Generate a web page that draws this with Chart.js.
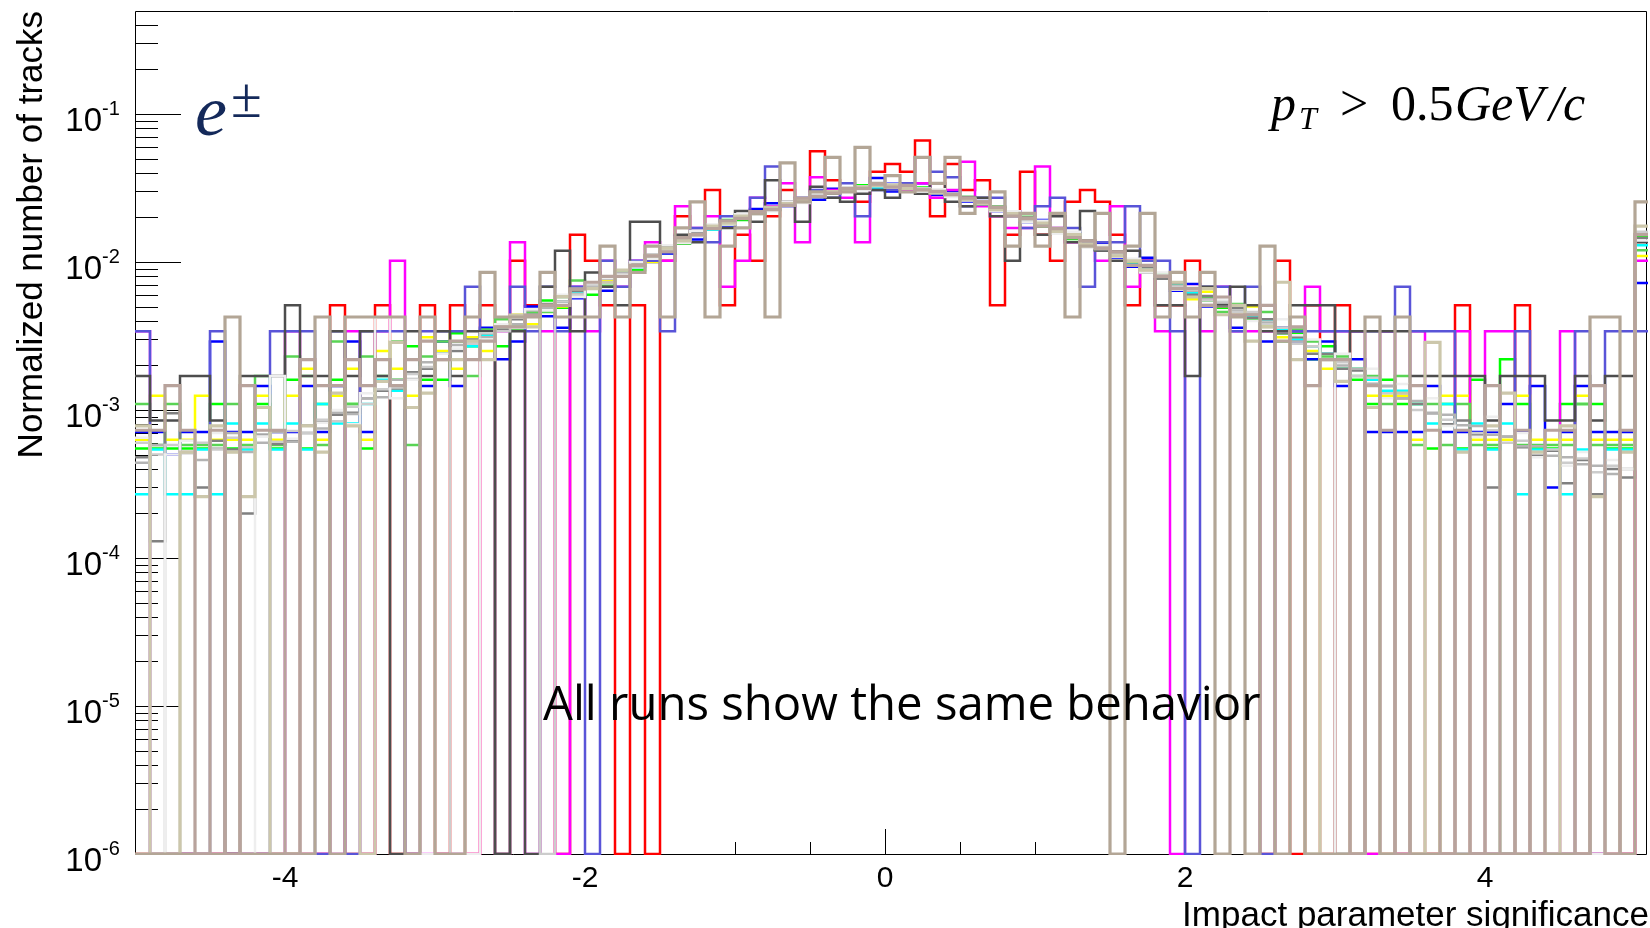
<!DOCTYPE html>
<html>
<head>
<meta charset="utf-8">
<script src="https://cdn.jsdelivr.net/npm/chart.js@4.4.1/dist/chart.umd.min.js"></script>
<style>
  html, body { margin: 0; padding: 0; background: #fff; }
  canvas { display: block; }
</style>
</head>
<body>
<canvas id="ipChart" width="1650" height="928"></canvas>
<script>
// histogram binning: 101 bins of 0.1 starting at -5 (last one is past +5)
const binStart = -5;
const binWidth = 0.1;

const yTickExponents = [-6, -5, -4, -3, -2, -1];
const xTickLabels = [-4, -2, 0, 2, 4];

// normalized counts per run, one value per bin
const run02 = [
  0,0,0,0,0,0,0,0,0,0,
  0,0,0,5.1e-3,0,0,5.1e-3,0,0,5.1e-3,
  0,5.1e-3,0,5.1e-3,0,1.02e-2,5.1e-3,5.1e-3,0,1.53e-2,
  1.02e-2,5.1e-3,0,5.1e-3,0,1.02e-2,2.04e-2,1.53e-2,3.06e-2,5.1e-3,
  1.53e-2,1.02e-2,2.04e-2,3.06e-2,2.55e-2,5.61e-2,3.57e-2,3.06e-2,2.55e-2,4.08e-2,
  4.59e-2,4.08e-2,6.63e-2,2.04e-2,4.59e-2,3.06e-2,3.57e-2,5.1e-3,1.53e-2,4.08e-2,
  1.53e-2,1.02e-2,2.55e-2,3.06e-2,2.55e-2,1.53e-2,5.1e-3,1.02e-2,5.1e-3,5.1e-3,
  1.02e-2,5.1e-3,5.1e-3,5.1e-3,5.1e-3,0,1.02e-2,0,5.1e-3,0,
  5.1e-3,0,0,0,0,0,0,0,5.1e-3,0,
  0,0,5.1e-3,0,0,0,0,0,0,0,
  1.53e-2];
const run03 = [
  5.5e-4,5.5e-4,5.5e-4,5.5e-4,5.5e-4,1.1e-3,5.5e-4,5.5e-4,1.1e-3,5.5e-4,
  1.6e-3,5.5e-4,1.1e-3,1.6e-3,1.1e-3,5.5e-4,2.2e-3,1.6e-3,2.7e-3,1.6e-3,
  1.6e-3,3.3e-3,2.7e-3,3.3e-3,2.7e-3,3.8e-3,4.4e-3,5.5e-3,4.9e-3,6.6e-3,
  6.0e-3,7.7e-3,8.2e-3,8.8e-3,1.1e-2,1.15e-2,1.43e-2,1.54e-2,1.65e-2,1.92e-2,
  1.92e-2,2.14e-2,2.25e-2,2.53e-2,2.53e-2,2.75e-2,3.02e-2,3.02e-2,3.3e-2,3.19e-2,
  3.35e-2,3.13e-2,3.19e-2,2.91e-2,2.86e-2,2.75e-2,2.42e-2,2.31e-2,2.14e-2,1.87e-2,
  1.81e-2,1.65e-2,1.43e-2,1.38e-2,1.21e-2,1.15e-2,9.9e-3,8.8e-3,8.2e-3,6.6e-3,
  6.6e-3,5.5e-3,4.9e-3,4.9e-3,4.4e-3,3.8e-3,3.3e-3,3.3e-3,2.2e-3,2.7e-3,
  2.2e-3,1.6e-3,1.1e-3,1.6e-3,1.1e-3,1.1e-3,5.5e-4,1.1e-3,5.5e-4,1.6e-3,
  5.5e-4,2.2e-3,1.1e-3,5.5e-4,5.5e-4,1.1e-3,1.1e-3,1.1e-3,5.5e-4,5.5e-4,
  1.5e-2];
const run04 = [
  7.1e-4,7.1e-4,5.0e-4,7.1e-4,7.1e-4,2.9e-3,7.1e-4,7.1e-4,1.45e-3,7.1e-4,
  7.1e-4,1.45e-3,7.1e-4,1.45e-3,2.9e-3,7.1e-4,2.2e-3,1.45e-3,2.2e-3,1.45e-3,
  2.9e-3,1.45e-3,2.2e-3,3.6e-3,2.2e-3,2.9e-3,5.0e-3,4.3e-3,3.6e-3,5.7e-3,
  7.1e-3,6.4e-3,8.5e-3,9.3e-3,1.0e-2,1.14e-2,1.5e-2,1.42e-2,1.78e-2,1.71e-2,
  2.06e-2,2.28e-2,2.49e-2,2.42e-2,2.7e-2,2.63e-2,3.13e-2,3.06e-2,3.2e-2,3.7e-2,
  2.99e-2,3.27e-2,3.41e-2,2.84e-2,2.99e-2,2.56e-2,2.7e-2,2.2e-2,2.2e-2,1.85e-2,
  1.92e-2,1.6e-2,1.56e-2,1.28e-2,1.35e-2,1.07e-2,9.3e-3,1.07e-2,7.8e-3,6.4e-3,
  7.1e-3,5.0e-3,5.7e-3,3.6e-3,4.3e-3,2.9e-3,3.6e-3,2.9e-3,2.2e-3,2.9e-3,
  1.45e-3,2.2e-3,7.1e-4,7.1e-4,7.1e-4,7.1e-4,1.45e-3,7.1e-4,7.1e-4,7.1e-4,
  7.1e-4,1.1e-3,7.1e-4,1.45e-3,3.0e-4,7.1e-4,1.45e-3,7.1e-4,7.1e-4,7.1e-4,
  7.2e-3];
const run05 = [
  6.3e-4,1.25e-3,6.3e-4,6.3e-4,1.25e-3,6.3e-4,6.3e-4,6.3e-4,1.25e-3,6.3e-4,
  1.25e-3,1.9e-3,6.3e-4,1.25e-3,1.9e-3,6.3e-4,2.5e-3,1.9e-3,1.25e-3,3.1e-3,
  2.5e-3,1.9e-3,3.1e-3,2.5e-3,3.8e-3,4.4e-3,3.8e-3,5.0e-3,5.0e-3,6.3e-3,
  6.9e-3,7.5e-3,8.1e-3,9.4e-3,1.0e-2,1.25e-2,1.38e-2,1.56e-2,1.69e-2,1.81e-2,
  2.06e-2,2.13e-2,2.31e-2,2.5e-2,2.56e-2,2.81e-2,3.0e-2,3.06e-2,3.19e-2,3.31e-2,
  3.25e-2,3.19e-2,3.13e-2,2.94e-2,2.88e-2,2.69e-2,2.5e-2,2.31e-2,2.13e-2,1.94e-2,
  1.81e-2,1.63e-2,1.5e-2,1.38e-2,1.25e-2,1.13e-2,1.0e-2,8.8e-3,8.1e-3,6.9e-3,
  5.6e-3,6.3e-3,5.0e-3,4.4e-3,5.0e-3,3.8e-3,3.1e-3,3.1e-3,2.5e-3,1.9e-3,
  1.9e-3,1.9e-3,1.25e-3,1.25e-3,1.25e-3,6.3e-4,0,1.25e-3,1.25e-3,6.3e-4,
  6.3e-4,6.3e-4,1.25e-3,6.3e-4,6.3e-4,6.3e-4,1.25e-3,6.3e-4,6.3e-4,6.3e-4,
  1.1e-2];
const run06 = [
  3.4e-3,0,0,0,0,0,0,0,0,0,
  3.4e-3,0,0,0,3.4e-3,0,3.4e-3,1.02e-2,0,0,
  0,0,0,3.4e-3,3.4e-3,1.36e-2,0,3.4e-3,0,6.8e-3,
  3.4e-3,1.02e-2,6.8e-3,1.02e-2,1.36e-2,1.02e-2,2.38e-2,1.7e-2,2.04e-2,6.8e-3,
  1.02e-2,2.72e-2,2.38e-2,3.4e-2,1.36e-2,3.74e-2,3.06e-2,2.72e-2,1.36e-2,3.4e-2,
  3.4e-2,3.06e-2,3.4e-2,2.72e-2,3.06e-2,4.76e-2,2.38e-2,2.04e-2,1.7e-2,1.7e-2,
  4.42e-2,1.7e-2,1.36e-2,1.36e-2,1.02e-2,2.38e-2,6.8e-3,1.02e-2,3.4e-3,0,
  6.8e-3,3.4e-3,6.8e-3,3.4e-3,3.4e-3,3.4e-3,3.4e-3,3.4e-3,6.8e-3,3.4e-3,
  3.4e-3,3.4e-3,0,3.4e-3,0,3.4e-3,0,0,3.4e-3,0,
  3.4e-3,3.4e-3,0,0,0,3.4e-3,0,0,0,0,
  1.02e-2];
const run07 = [
  2.7e-4,5.4e-4,2.7e-4,2.7e-4,5.4e-4,2.7e-4,8.1e-4,5.4e-4,8.1e-4,5.4e-4,
  8.1e-4,5.4e-4,1.1e-3,8.1e-4,8.1e-4,1.1e-3,1.6e-3,1.35e-3,2.2e-3,1.9e-3,
  2.4e-3,2.2e-3,2.7e-3,3.2e-3,3.5e-3,4.3e-3,4.6e-3,4.9e-3,5.4e-3,6.2e-3,
  6.8e-3,7.3e-3,8.6e-3,9.2e-3,1.08e-2,1.19e-2,1.43e-2,1.51e-2,1.65e-2,1.89e-2,
  1.97e-2,2.16e-2,2.27e-2,2.49e-2,2.57e-2,2.86e-2,2.92e-2,3.05e-2,3.24e-2,3.16e-2,
  3.38e-2,3.16e-2,3.08e-2,3.0e-2,2.81e-2,2.73e-2,2.46e-2,2.32e-2,2.08e-2,1.97e-2,
  1.78e-2,1.67e-2,1.46e-2,1.35e-2,1.24e-2,1.13e-2,9.7e-3,9.2e-3,7.8e-3,7.0e-3,
  6.2e-3,5.7e-3,5.1e-3,4.9e-3,4.3e-3,4.1e-3,3.5e-3,3.0e-3,2.7e-3,2.4e-3,
  1.9e-3,1.9e-3,1.6e-3,1.35e-3,1.35e-3,1.1e-3,8.1e-4,1.1e-3,5.4e-4,8.1e-4,
  5.4e-4,8.1e-4,2.7e-4,5.4e-4,5.4e-4,2.7e-4,5.4e-4,2.7e-4,5.4e-4,5.4e-4,
  1.3e-2];
const run08 = [
  1.1e-3,5.8e-4,1.1e-3,5.8e-4,5.8e-4,5.8e-4,1.1e-3,5.8e-4,1.7e-3,5.8e-4,
  2.3e-3,1.7e-3,5.8e-4,2.9e-3,1.1e-3,2.3e-3,1.7e-3,2.9e-3,5.8e-4,2.3e-3,
  2.9e-3,2.9e-3,1.7e-3,3.5e-3,4.1e-3,3.5e-3,4.6e-3,4.6e-3,5.8e-3,7.5e-3,
  6.9e-3,6.9e-3,8.7e-3,9.8e-3,1.04e-2,1.27e-2,1.33e-2,1.62e-2,1.73e-2,1.8e-2,
  2.08e-2,2.2e-2,2.31e-2,2.43e-2,2.66e-2,2.77e-2,2.89e-2,3.12e-2,3.23e-2,3.29e-2,
  3.23e-2,3.29e-2,3.12e-2,2.95e-2,2.83e-2,2.66e-2,2.54e-2,2.37e-2,2.08e-2,2.02e-2,
  1.73e-2,1.67e-2,1.56e-2,1.39e-2,1.21e-2,1.1e-2,1.04e-2,9.2e-3,8.1e-3,6.9e-3,
  6.4e-3,5.8e-3,4.6e-3,5.2e-3,4.1e-3,4.6e-3,2.9e-3,3.5e-3,2.9e-3,2.3e-3,
  2.3e-3,1.7e-3,1.7e-3,1.1e-3,1.7e-3,5.8e-4,1.1e-3,5.8e-4,1.1e-3,5.8e-4,
  5.8e-4,0,5.8e-4,5.8e-4,5.8e-4,5.8e-4,1.1e-3,5.8e-4,5.8e-4,5.8e-4,
  1.2e-2];
const run09 = [
  3.4e-3,0,0,0,0,3.4e-3,0,0,0,3.4e-3,
  3.4e-3,3.4e-3,0,3.4e-3,0,3.4e-3,3.4e-3,3.4e-3,0,3.4e-3,
  3.4e-3,3.4e-3,6.8e-3,3.4e-3,0,6.8e-3,3.4e-3,6.8e-3,3.4e-3,6.8e-3,
  0,1.02e-2,6.8e-3,1.02e-2,1.02e-2,3.4e-3,1.36e-2,1.7e-2,1.36e-2,2.04e-2,
  2.04e-2,2.72e-2,4.42e-2,2.38e-2,2.72e-2,3.06e-2,2.72e-2,3.4e-2,2.04e-2,3.06e-2,
  3.06e-2,3.4e-2,5.1e-2,4.08e-2,3.74e-2,2.38e-2,2.72e-2,2.72e-2,2.04e-2,1.7e-2,
  2.38e-2,2.72e-2,1.7e-2,6.8e-3,1.36e-2,1.36e-2,2.38e-2,1.02e-2,1.02e-2,3.4e-3,
  0,6.8e-3,6.8e-3,3.4e-3,6.8e-3,0,3.4e-3,3.4e-3,3.4e-3,3.4e-3,
  3.4e-3,3.4e-3,3.4e-3,3.4e-3,6.8e-3,3.4e-3,3.4e-3,3.4e-3,0,0,
  0,0,3.4e-3,0,0,0,3.4e-3,0,3.4e-3,3.4e-3,
  3.4e-3];
const run12 = [
  1.7e-3,8.5e-4,8.5e-4,1.7e-3,1.7e-3,8.5e-4,0,1.7e-3,1.7e-3,1.7e-3,
  5.1e-3,1.7e-3,1.7e-3,3.4e-3,1.7e-3,3.4e-3,1.7e-3,0,3.4e-3,1.7e-3,
  3.4e-3,1.7e-3,3.4e-3,3.4e-3,0,3.4e-3,0,6.8e-3,1.19e-2,3.4e-3,
  8.5e-3,6.8e-3,5.1e-3,1.87e-2,1.87e-2,1.19e-2,1.53e-2,1.36e-2,1.7e-2,1.7e-2,
  2.21e-2,1.87e-2,3.57e-2,2.55e-2,1.87e-2,3.23e-2,2.72e-2,2.55e-2,2.89e-2,3.06e-2,
  2.72e-2,3.23e-2,2.89e-2,3.4e-2,2.55e-2,2.38e-2,2.72e-2,2.04e-2,1.02e-2,1.87e-2,
  1.53e-2,2.04e-2,1.36e-2,2.21e-2,1.19e-2,1.02e-2,1.19e-2,8.5e-3,5.1e-3,5.1e-3,
  1.7e-3,6.8e-3,5.1e-3,6.8e-3,5.1e-3,3.4e-3,3.4e-3,5.1e-3,5.1e-3,5.1e-3,
  0,3.4e-3,3.4e-3,3.4e-3,3.4e-3,1.7e-3,1.7e-3,1.7e-3,1.7e-3,1.7e-3,
  8.5e-4,1.7e-3,1.7e-3,1.7e-3,8.5e-4,8.5e-4,1.7e-3,8.5e-4,1.7e-3,1.7e-3,
  1.36e-2];
const run14 = [
  4.8e-4,1.3e-4,9.5e-4,5.2e-4,3.0e-4,6.2e-4,5.4e-4,2.0e-4,6.8e-4,5.9e-4,
  6.3e-4,7.0e-4,8.4e-4,9.3e-4,9.6e-4,1.2e-3,1.35e-3,1.4e-3,1.8e-3,1.9e-3,
  2.4e-3,2.5e-3,3.0e-3,3.3e-3,3.5e-3,4.1e-3,4.4e-3,5.2e-3,5.4e-3,6.4e-3,
  6.6e-3,7.8e-3,8.3e-3,9.8e-3,1.07e-2,1.28e-2,1.37e-2,1.6e-2,1.68e-2,1.9e-2,
  1.95e-2,2.2e-2,2.25e-2,2.5e-2,2.55e-2,2.85e-2,2.9e-2,3.15e-2,3.15e-2,3.35e-2,
  3.25e-2,3.25e-2,3.05e-2,3.05e-2,2.8e-2,2.75e-2,2.45e-2,2.35e-2,2.05e-2,2.0e-2,
  1.75e-2,1.7e-2,1.45e-2,1.4e-2,1.2e-2,1.18e-2,9.6e-3,9.3e-3,7.7e-3,7.2e-3,
  6.0e-3,5.9e-3,5.0e-3,4.9e-3,4.2e-3,4.1e-3,3.3e-3,3.1e-3,2.4e-3,2.4e-3,
  1.9e-3,1.85e-3,1.5e-3,1.45e-3,1.2e-3,1.1e-3,9.5e-4,8.0e-4,8.5e-4,6.8e-4,
  3.0e-4,6.6e-4,5.6e-4,4.9e-4,5.3e-4,3.2e-4,4.6e-4,2.7e-4,4.0e-4,3.5e-4,
  1.45e-2];
const run16 = [
  4.4e-4,5.8e-4,0,6.2e-4,4.6e-4,5.5e-4,7.0e-4,5.2e-4,6.0e-4,7.1e-4,
  6.1e-4,7.9e-4,7.5e-4,9.6e-4,9.4e-4,1.2e-3,1.22e-3,1.6e-3,1.62e-3,2.1e-3,
  2.2e-3,2.75e-3,2.8e-3,3.1e-3,3.7e-3,3.8e-3,4.7e-3,4.9e-3,5.8e-3,6.1e-3,
  6.9e-3,7.7e-3,8.4e-3,9.6e-3,1.1e-2,1.24e-2,1.41e-2,1.53e-2,1.72e-2,1.83e-2,
  2.02e-2,2.13e-2,2.32e-2,2.42e-2,2.62e-2,2.78e-2,2.97e-2,3.08e-2,3.22e-2,3.28e-2,
  3.32e-2,3.18e-2,3.12e-2,2.98e-2,2.87e-2,2.68e-2,2.52e-2,2.28e-2,2.12e-2,1.93e-2,
  1.82e-2,1.63e-2,1.52e-2,1.34e-2,1.26e-2,1.13e-2,1.01e-2,8.9e-3,8.1e-3,6.9e-3,
  6.4e-3,5.6e-3,5.3e-3,4.7e-3,4.5e-3,3.9e-3,3.6e-3,2.9e-3,2.7e-3,2.2e-3,
  2.0e-3,1.9e-3,1.5e-3,1.45e-3,1.2e-3,1.15e-3,9.6e-4,9.3e-4,7.9e-4,7.8e-4,
  6.8e-4,6.6e-4,5.7e-4,5.7e-4,4.9e-4,4.8e-4,4.3e-4,4.2e-4,3.7e-4,4.0e-4,
  1.55e-2];
const run17 = [
  6.0e-4,5.0e-4,5.8e-4,5.1e-4,6.0e-4,5.4e-4,6.5e-4,5.6e-4,6.7e-4,6.1e-4,
  7.2e-4,7.0e-4,8.6e-4,8.4e-4,1.05e-3,1.1e-3,1.38e-3,1.42e-3,1.75e-3,1.95e-3,
  2.2e-3,0,2.8e-3,3.3e-3,3.4e-3,4.2e-3,4.3e-3,0,5.4e-3,6.0e-3,
  7.0e-3,7.3e-3,8.8e-3,9.2e-3,1.13e-2,1.2e-2,1.45e-2,1.5e-2,1.75e-2,1.8e-2,
  2.05e-2,2.1e-2,2.35e-2,2.4e-2,2.65e-2,2.75e-2,3.0e-2,3.05e-2,3.25e-2,3.25e-2,
  3.35e-2,3.15e-2,3.15e-2,2.95e-2,2.9e-2,2.65e-2,2.55e-2,2.25e-2,2.15e-2,1.9e-2,
  1.85e-2,1.6e-2,1.55e-2,1.3e-2,1.28e-2,1.12e-2,1.03e-2,8.7e-3,8.2e-3,6.8e-3,
  6.5e-3,5.5e-3,5.4e-3,4.6e-3,4.6e-3,3.8e-3,3.6e-3,2.8e-3,2.7e-3,2.2e-3,
  2.1e-3,1.7e-3,1.65e-3,1.3e-3,1.3e-3,1.0e-3,0,8.6e-4,0,7.0e-4,
  7.3e-4,6.0e-4,6.2e-4,5.2e-4,5.4e-4,4.4e-4,4.7e-4,3.8e-4,4.2e-4,4.0e-4,
  1.6e-2];
const run19 = [
  6.5e-4,0,5.0e-4,6.2e-4,0,7.0e-4,5.2e-4,0,6.6e-4,1.7e-3,
  6.4e-4,0,8.2e-4,1.0e-3,8.0e-4,1.3e-3,4.2e-3,1.2e-3,1.6e-3,0,
  2.4e-3,2.6e-3,0,3.0e-3,3.8e-3,3.6e-3,4.8e-3,4.7e-3,6.0e-3,5.8e-3,
  7.2e-3,7.8e-3,8.2e-3,1.0e-2,1.05e-2,1.3e-2,1.35e-2,1.62e-2,1.8e-2,1.8e-2,
  2.1e-2,2.2e-2,2.2e-2,2.55e-2,2.5e-2,2.9e-2,3.0e-2,3.2e-2,3.05e-2,3.4e-2,
  3.2e-2,3.3e-2,3.0e-2,3.1e-2,2.75e-2,2.6e-2,2.6e-2,2.2e-2,2.2e-2,1.85e-2,
  1.9e-2,1.55e-2,1.6e-2,1.25e-2,1.3e-2,1.08e-2,1.05e-2,8.5e-3,8.5e-3,6.5e-3,
  6.8e-3,5.2e-3,5.6e-3,4.4e-3,4.0e-3,3.6e-3,4.1e-3,3.2e-3,3.0e-3,0,
  2.4e-3,0,1.9e-3,1.2e-3,1.5e-3,0,1.2e-3,7.8e-4,0,6.6e-4,
  9.0e-4,0,7.0e-4,4.8e-4,0,4.2e-4,5.2e-4,0,4.6e-4,4.0e-4,
  1.4e-2];
const run21 = [
  7.8e-4,0,0,5.2e-4,2.6e-4,7.8e-4,5.2e-4,2.6e-4,1.04e-3,0,
  0,7.8e-4,5.2e-4,1.3e-3,7.8e-4,0,1.56e-3,2.86e-3,1.04e-3,1.3e-3,
  2.19e-3,2.19e-3,2.92e-3,2.19e-3,3.65e-3,4.38e-3,3.65e-3,5.1e-3,5.84e-3,6.57e-3,
  6.6e-3,7.3e-3,8.8e-3,9.5e-3,1.1e-2,1.24e-2,1.39e-2,1.53e-2,1.75e-2,1.83e-2,
  2.04e-2,2.12e-2,2.34e-2,2.48e-2,2.63e-2,2.77e-2,2.99e-2,3.07e-2,3.21e-2,3.29e-2,
  3.29e-2,3.14e-2,3.07e-2,2.92e-2,2.85e-2,2.63e-2,2.48e-2,2.26e-2,2.12e-2,1.97e-2,
  1.83e-2,1.61e-2,1.53e-2,1.31e-2,1.24e-2,1.1e-2,1.02e-2,8.8e-3,8.0e-3,7.3e-3,
  5.8e-3,6.6e-3,4.4e-3,5.1e-3,2.92e-3,3.65e-3,7.3e-3,2.19e-3,0,2.19e-3,
  1.56e-3,0,1.04e-3,0,1.3e-3,0,2.86e-3,0,5.2e-4,0,
  7.8e-4,1.3e-3,0,5.2e-4,0,7.8e-4,0,2.6e-4,0,5.2e-4,
  1.75e-2];
const run24 = [
  0,0,0,0,0,0,4.25e-3,0,0,0,
  0,0,4.25e-3,0,4.25e-3,4.25e-3,4.25e-3,4.25e-3,0,4.25e-3,
  0,0,4.25e-3,8.5e-3,4.25e-3,4.25e-3,4.25e-3,8.5e-3,4.25e-3,4.25e-3,
  4.25e-3,1.28e-2,4.25e-3,8.5e-3,1.28e-2,4.25e-3,1.7e-2,2.55e-2,4.25e-3,1.28e-2,
  1.7e-2,2.13e-2,4.25e-3,4.68e-2,2.55e-2,2.98e-2,5.1e-2,2.98e-2,5.95e-2,3.4e-2,
  3.83e-2,2.98e-2,5.1e-2,3.4e-2,5.1e-2,2.13e-2,2.55e-2,2.98e-2,1.28e-2,2.13e-2,
  1.28e-2,2.13e-2,4.25e-3,1.28e-2,2.13e-2,0,1.28e-2,2.13e-2,4.25e-3,8.5e-3,
  4.25e-3,8.5e-3,0,4.25e-3,0,1.28e-2,0,4.25e-3,0,0,
  0,0,4.25e-3,0,4.25e-3,0,0,0,0,0,
  0,0,0,0,0,0,0,4.25e-3,4.25e-3,0,
  2.55e-2];
const run25 = [
  7.3e-4,7.3e-4,1.46e-3,7.3e-4,0,7.3e-4,0,1.46e-3,7.3e-4,7.3e-4,
  0,2.19e-3,1.46e-3,1.46e-3,2.19e-3,1.46e-3,2.19e-3,1.46e-3,2.19e-3,2.92e-3,
  2.19e-3,2.92e-3,2.19e-3,2.92e-3,3.65e-3,3.65e-3,4.38e-3,5.1e-3,5.1e-3,6.57e-3,
  7.3e-3,8.0e-3,8.0e-3,9.5e-3,1.1e-2,1.17e-2,1.46e-2,1.53e-2,1.68e-2,1.9e-2,
  1.97e-2,2.19e-2,2.26e-2,2.41e-2,2.7e-2,2.77e-2,2.92e-2,3.14e-2,3.14e-2,3.36e-2,
  3.21e-2,3.29e-2,3.07e-2,3.0e-2,2.85e-2,2.7e-2,2.55e-2,2.34e-2,2.04e-2,1.97e-2,
  1.75e-2,1.68e-2,1.46e-2,1.39e-2,1.24e-2,1.17e-2,9.5e-3,9.5e-3,8.0e-3,6.6e-3,
  6.6e-3,5.1e-3,5.8e-3,4.4e-3,4.4e-3,5.1e-3,2.92e-3,3.65e-3,1.46e-3,2.19e-3,
  2.19e-3,0,1.46e-3,7.3e-4,0,1.46e-3,7.3e-4,0,7.3e-4,0,
  1.46e-3,0,7.3e-4,0,7.3e-4,7.3e-4,0,1.46e-3,0,7.3e-4,
  1.53e-2];

// drawing order, first one ends up at the bottom (ROOT colour index order)
const runs = [
  { values: run02, color: '#ff0000', width: 2.5 },
  { values: run03, color: '#00ff00', width: 2.5 },
  { values: run04, color: '#0000ff', width: 2.5 },
  { values: run05, color: '#ffff00', width: 2.5 },
  { values: run06, color: '#ff00ff', width: 2.5 },
  { values: run07, color: '#00ffff', width: 2.5 },
  { values: run08, color: '#59d454', width: 2.5 },
  { values: run09, color: '#5954d8', width: 2.5 },
  { values: run12, color: '#4d4d4d', width: 2.5 },
  { values: run14, color: '#808080', width: 2.5 },
  { values: run16, color: '#b3b3b3', width: 2.5 },
  { values: run17, color: '#cccccc', width: 2.5 },
  { values: run19, color: '#eeeeee', width: 2.5 },
  { values: run21, color: '#ccc7ab', width: 3.2 },
  { values: run24, color: '#b3a696', width: 3.2 },
  { values: run25, color: '#b8a39c', width: 3.2 }
];

const yMin = 1e-6;
const yMax = 0.4966;

// empty bins sit on the bottom of the frame, like ROOT does on a log axis
const toSteps = (values) => {
  var pts = values.map((v, i) => ({ x: binStart + i * binWidth, y: v > 0 ? v : yMin }));
  var last = values[values.length - 1];
  pts.push({ x: binStart + values.length * binWidth, y: last > 0 ? last : yMin });
  return pts;
};

const datasets = runs.map((r, k) => ({
  data: toSteps(r.values),
  borderColor: r.color,
  borderWidth: r.width,
  stepped: true,
  fill: false,
  pointRadius: 0,
  clip: 1,
  order: runs.length - k
}));

const axisFont = '"Liberation Sans", Arial, sans-serif';
const mathFont = '"Liberation Serif", "DejaVu Serif", serif';

const rootFrame = {
  id: 'rootFrame',
  beforeDraw(chart) {
    const ctx = chart.ctx;
    ctx.save();
    ctx.fillStyle = '#ffffff';
    ctx.fillRect(0, 0, chart.width, chart.height);
    ctx.restore();
  },
  beforeDatasetsDraw(chart) {
    const { ctx, chartArea: a, scales: { x, y } } = chart;
    ctx.save();
    ctx.strokeStyle = '#000000';
    ctx.lineWidth = 1;
    ctx.beginPath();
    ctx.moveTo(a.left + 0.5, a.bottom + 0.5);
    ctx.lineTo(a.left + 0.5, a.top + 0.5);
    ctx.lineTo(a.right - 0.5, a.top + 0.5);
    ctx.lineTo(a.right - 0.5, a.bottom + 0.5);
    ctx.lineTo(a.left + 0.5, a.bottom + 0.5);
    ctx.stroke();

    // log ticks, drawn inside the frame
    ctx.beginPath();
    for (let e = -6; e <= 0; e++) {
      for (let m = 1; m <= 9; m++) {
        const v = m * Math.pow(10, e);
        if (v < yMin || v > y.max) continue;
        const py = Math.round(y.getPixelForValue(v)) + 0.5;
        const len = m === 1 ? 46 : 23;
        ctx.moveTo(a.left, py);
        ctx.lineTo(a.left + len, py);
      }
    }
    for (let t = -10; t <= 10; t++) {
      const xv = t / 2;
      const px = Math.round(x.getPixelForValue(xv)) + 0.5;
      const len = (t % 4 === 0) ? 25 : 12;
      ctx.moveTo(px, a.bottom);
      ctx.lineTo(px, a.bottom - len);
    }
    ctx.stroke();
    ctx.restore();
  },
  afterDraw(chart) {
    const { ctx, chartArea: a, scales: { x, y } } = chart;
    ctx.save();
    ctx.fillStyle = '#000000';

    // y labels 10^n
    yTickExponents.forEach((e) => {
      const py = y.getPixelForValue(Math.pow(10, e));
      ctx.font = '33px ' + axisFont;
      ctx.textAlign = 'right';
      ctx.textBaseline = 'alphabetic';
      ctx.fillText('10', 102, py + 17);
      ctx.font = '20px ' + axisFont;
      ctx.textAlign = 'left';
      ctx.fillText(String(e), 102, py + 1);
    });

    // x labels
    ctx.font = '30px ' + axisFont;
    ctx.textAlign = 'center';
    xTickLabels.forEach((t) => {
      ctx.fillText(String(t), x.getPixelForValue(t), 887);
    });

    // axis titles
    ctx.font = '35px ' + axisFont;
    ctx.textAlign = 'right';
    ctx.fillText('Impact parameter significance', 1649, 926);
    ctx.save();
    ctx.translate(42, 11);
    ctx.rotate(-Math.PI / 2);
    ctx.fillText('Normalized number of tracks', 0, 0);
    ctx.restore();

    // particle label
    ctx.fillStyle = '#14295a';
    ctx.textAlign = 'left';
    ctx.font = 'italic 72px ' + mathFont;
    ctx.fillText('e', 195, 135);
    ctx.font = '56px ' + mathFont;
    ctx.fillText('\u00b1', 231, 117);

    // pT cut
    ctx.fillStyle = '#000000';
    ctx.font = 'italic 50px ' + mathFont;
    ctx.fillText('p', 1271, 120);
    ctx.font = 'italic 32px ' + mathFont;
    ctx.fillText('T', 1299, 129);
    ctx.font = '50px ' + mathFont;
    ctx.fillText('>', 1340, 120);
    ctx.fillText('0.5', 1391, 120);
    ctx.font = 'italic 50px ' + mathFont;
    ctx.fillText('GeV', 1455, 120);
    ctx.fillText('/c', 1549, 120);

    // comment on the plot
    const note = 'All runs show the same behavior';
    ctx.font = '50px "Open Sans", "Noto Sans", sans-serif';
    const size = 50 * 718 / ctx.measureText(note).width;
    ctx.font = size.toFixed(1) + 'px "Open Sans", "Noto Sans", sans-serif';
    ctx.fillText(note, 543, 720);
    ctx.restore();
  }
};

const ipChart = (id) => {
  try {
    var ctx = document.getElementById(id);
    if (ctx) {
      var chart = new Chart(ctx, {
        type: 'line',
        data: { datasets: datasets },
        options: {
          responsive: false,
          animation: false,
          devicePixelRatio: 1,
          layout: { padding: { top: 11, right: 3, left: 0, bottom: 0 } },
          plugins: { legend: { display: false }, tooltip: { enabled: false } },
          elements: { point: { radius: 0 } },
          scales: {
            x: {
              type: 'linear', min: -5, max: 5.08,
              ticks: { display: false }, grid: { display: false }, border: { display: false },
              afterFit: (s) => { s.height = 74; }
            },
            y: {
              type: 'logarithmic', min: yMin, max: yMax,
              ticks: { display: false }, grid: { display: false }, border: { display: false },
              afterFit: (s) => { s.width = 135; }
            }
          }
        },
        plugins: [rootFrame]
      });
    }
  } catch (error) {
    console.log(error);
  }
};

ipChart('ipChart');
</script>
</body>
</html>
